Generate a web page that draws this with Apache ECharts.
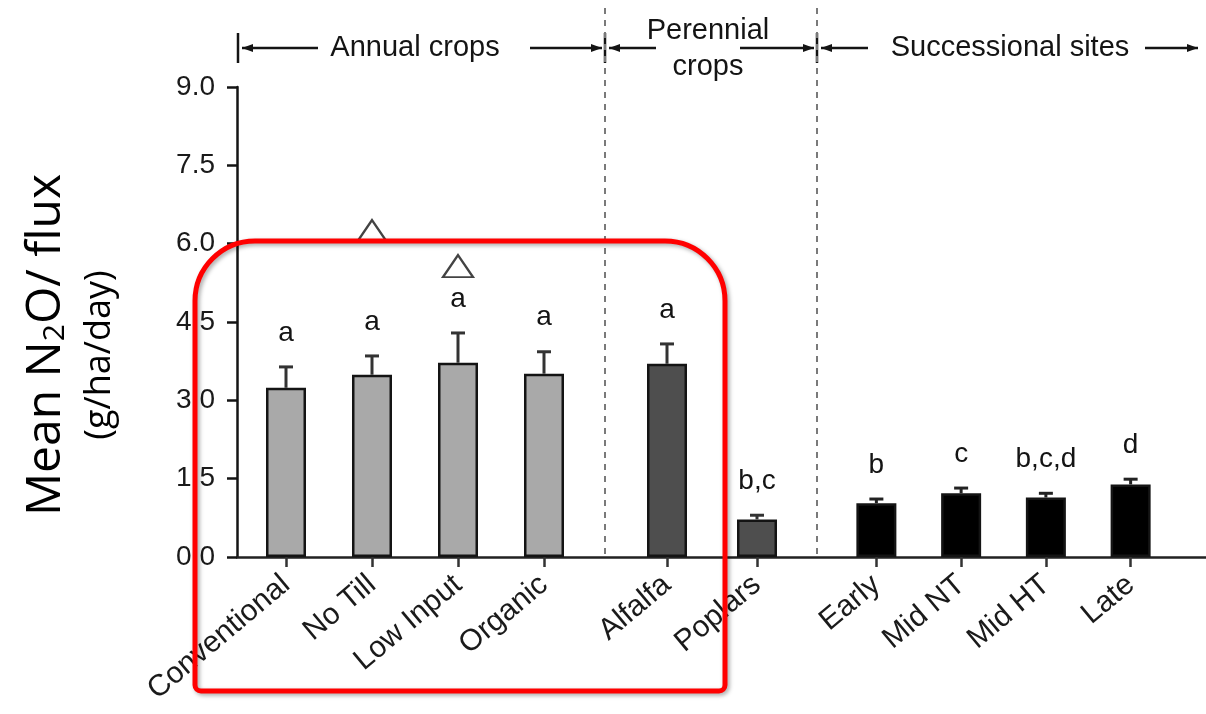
<!DOCTYPE html>
<html>
<head>
<meta charset="utf-8">
<style>
  html, body { margin: 0; padding: 0; background: #fff; }
  #chart { width: 1206px; height: 714px; }
</style>
<script src="https://cdn.jsdelivr.net/npm/echarts@6/dist/echarts.min.js"></script>
</head>
<body>
<div id="chart"></div>
<script>
// Mean N2O flux by system (g/ha/day), with standard errors and significance letters
const annualCrops = ['Conventional', 'No Till', 'Low Input', 'Organic'];
const annualMean = [3.24, 3.49, 3.72, 3.51];
const annualSE = [0.40, 0.36, 0.57, 0.42];
const annualLetters = ['a', 'a', 'a', 'a'];
const annualTriangles = [null, 6.24, 5.57, null];

const perennialCrops = ['Alfalfa', 'Poplars'];
const perennialMean = [3.70, 0.72];
const perennialSE = [0.38, 0.08];
const perennialLetters = ['a', 'b,c'];

const successionalSites = ['Early', 'Mid NT', 'Mid HT', 'Late'];
const successionalMean = [1.03, 1.22, 1.14, 1.39];
const successionalSE = [0.08, 0.10, 0.08, 0.10];
const successionalLetters = ['b', 'c', 'b,c,d', 'd'];

const yMin = 0, yMax = 9, yStep = 1.5;

const FONT = 'Liberation Sans, Arial, sans-serif';
const INK = '#141414';

const chart = echarts.init(document.getElementById('chart'));

function catAxis(gi, cats) {
  return {
    gridIndex: gi, type: 'category', data: cats,
    axisLine: { show: false },
    axisTick: { show: true, alignWithLabel: true, length: 10, lineStyle: { color: '#333', width: 2.5 } },
    axisLabel: { rotate: 40, fontSize: 30, color: '#1a1a1a', fontFamily: FONT, margin: 24, interval: 0 },
    splitLine: { show: false }
  };
}
function hiddenY(gi) {
  return { gridIndex: gi, type: 'value', min: yMin, max: yMax, interval: yStep, show: false, splitLine: { show: false } };
}
function barSeries(gi, values, fill) {
  return {
    type: 'bar', xAxisIndex: gi, yAxisIndex: gi, data: values, barWidth: 40, z: 3,
    itemStyle: { color: fill, borderColor: INK, borderWidth: 2.5 }
  };
}
function errorSeries(gi, mean, se, letters, color) {
  return {
    type: 'custom', xAxisIndex: gi, yAxisIndex: gi, z: 4,
    data: mean.map((m, i) => [i, m, se[i]]),
    renderItem: function (params, api) {
      const x = api.value(0), m = api.value(1), e = api.value(2);
      const p0 = api.coord([x, m]);
      const p1 = api.coord([x, m + e]);
      const cap = 7;
      return {
        type: 'group',
        children: [
          { type: 'line', shape: { x1: p0[0], y1: p0[1], x2: p1[0], y2: p1[1] }, style: { stroke: color, lineWidth: 3 } },
          { type: 'line', shape: { x1: p1[0] - cap, y1: p1[1], x2: p1[0] + cap, y2: p1[1] }, style: { stroke: color, lineWidth: 3 } },
          { type: 'text', x: p1[0], y: p1[1] - 20,
            style: { text: letters[params.dataIndex], fontSize: 28, fontFamily: FONT, fill: INK, align: 'center', verticalAlign: 'bottom' } }
        ]
      };
    }
  };
}

// header annotations: brackets with arrows over each group
function arrow(x1, x2, y, headAt) {
  const dir = headAt === x1 ? 1 : -1;
  return [
    { type: 'line', shape: { x1: x1, y1: y, x2: x2, y2: y }, style: { stroke: INK, lineWidth: 2.5 } },
    { type: 'polygon', shape: { points: [[headAt, y], [headAt + dir * 11, y - 4], [headAt + dir * 11, y + 4]] }, style: { fill: INK } }
  ];
}
const hy = 48;
const headerFont = { fontSize: 29, fontFamily: FONT, fill: INK, align: 'center', verticalAlign: 'middle' };
const graphics = [].concat(
  // divider lines between groups
  [605, 817].map(x => ({ type: 'line', shape: { x1: x, y1: 8, x2: x, y2: 557 }, style: { stroke: '#7a7a7a', lineWidth: 2, lineDash: [6, 6] }, z: 1 })),
  [238, 605, 817].map(x => ({ type: 'line', shape: { x1: x, y1: 33, x2: x, y2: 63 }, style: { stroke: INK, lineWidth: 2.5 } })),
  arrow(242, 318, hy, 242),
  arrow(530, 602, hy, 602),
  arrow(609, 656, hy, 609),
  arrow(740, 814, hy, 814),
  arrow(821, 868, hy, 821),
  arrow(1145, 1198, hy, 1198),
  [
    { type: 'text', x: 415, y: hy, style: Object.assign({ text: 'Annual crops' }, headerFont) },
    { type: 'text', x: 708, y: 31, style: Object.assign({ text: 'Perennial' }, headerFont) },
    { type: 'text', x: 708, y: 67, style: Object.assign({ text: 'crops' }, headerFont) },
    { type: 'text', x: 1010, y: hy, style: Object.assign({ text: 'Successional sites' }, headerFont) },
    // y axis title
    { type: 'text', x: 40, y: 345, rotation: Math.PI / 2,
      style: {
        text: '{a|Mean N}{s|2}{a|O/ flux}',
        align: 'center', verticalAlign: 'middle',
        rich: {
          a: { fontSize: 48, fontFamily: 'Open Sans, sans-serif', fill: '#000', lineHeight: 60, verticalAlign: 'bottom' },
          s: { fontSize: 30, fontFamily: 'Open Sans, sans-serif', fill: '#000', lineHeight: 30, verticalAlign: 'bottom' }
        }
      } },
    { type: 'text', x: 100, y: 355, rotation: Math.PI / 2,
      style: { text: '(g/ha/day)', fontSize: 36, fontFamily: 'Open Sans, sans-serif', fill: '#000', align: 'center', verticalAlign: 'middle' } },
    // highlight frame around annual crops and alfalfa
    { type: 'rect', z: 100,
      shape: { x: 195, y: 241, width: 530, height: 450, r: [60, 60, 6, 6] },
      style: { fill: 'none', stroke: '#ff0000', lineWidth: 5, shadowBlur: 4, shadowColor: 'rgba(0,0,0,0.35)', shadowOffsetX: 2, shadowOffsetY: 2 } }
  ]
);

const option = {
  animation: false,
  backgroundColor: '#fff',
  grid: [
    { left: 237, right: 0, top: 87, bottom: 157 },
    { left: 243, width: 344, top: 87, bottom: 157 },
    { left: 622, width: 180, top: 87, bottom: 157 },
    { left: 834, width: 339, top: 87, bottom: 157 }
  ],
  xAxis: [
    { gridIndex: 0, type: 'value', min: 0, max: 1,
      axisLine: { show: true, lineStyle: { color: '#222', width: 2.5 } },
      axisTick: { show: false }, axisLabel: { show: false }, splitLine: { show: false } },
    catAxis(1, annualCrops),
    catAxis(2, perennialCrops),
    catAxis(3, successionalSites)
  ],
  yAxis: [
    { gridIndex: 0, type: 'value', min: yMin, max: yMax, interval: yStep,
      axisLine: { show: true, lineStyle: { color: INK, width: 2.5 } },
      axisTick: { show: true, length: 10, lineStyle: { color: INK, width: 2.5 } },
      axisLabel: { formatter: v => v.toFixed(1), fontSize: 28, color: '#1a1a1a', fontFamily: FONT, margin: 22 },
      splitLine: { show: false } },
    hiddenY(1), hiddenY(2), hiddenY(3)
  ],
  series: [
    barSeries(1, annualMean, '#a9a9a9'),
    errorSeries(1, annualMean, annualSE, annualLetters, '#333'),
    { type: 'scatter', xAxisIndex: 1, yAxisIndex: 1, data: annualTriangles, symbol: 'triangle', symbolSize: [30, 22], z: 5,
      itemStyle: { color: '#fff', borderColor: INK, borderWidth: 2.2 } },
    barSeries(2, perennialMean, '#4e4e4e'),
    errorSeries(2, perennialMean, perennialSE, perennialLetters, '#333'),
    barSeries(3, successionalMean, '#000'),
    errorSeries(3, successionalMean, successionalSE, successionalLetters, '#222')
  ],
  graphic: graphics
};
chart.setOption(option);
</script>
</body>
</html>
